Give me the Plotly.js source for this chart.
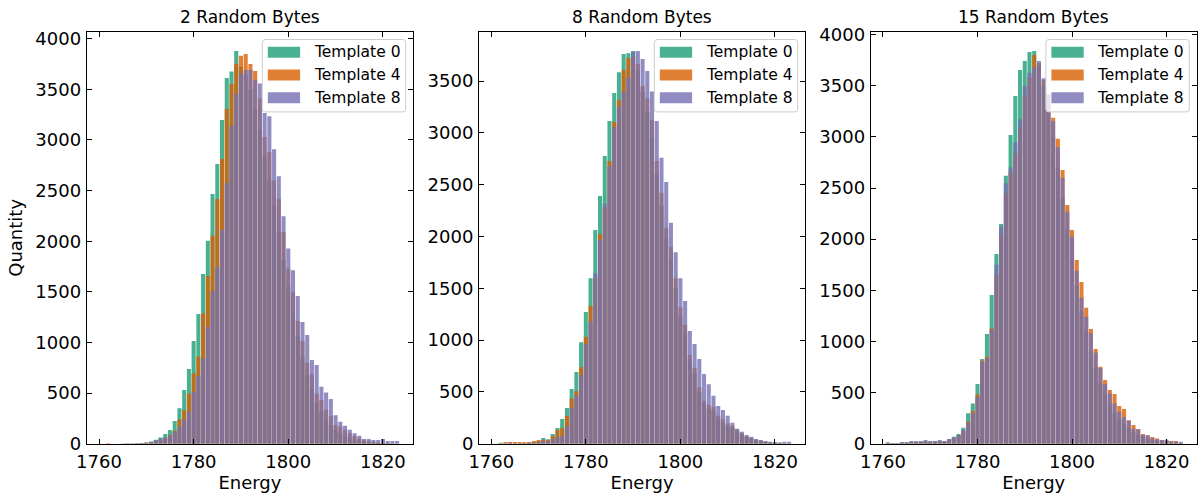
<!DOCTYPE html>
<html>
<head>
<meta charset="utf-8">
<script src="https://cdn.plot.ly/plotly-3.0.1.min.js"></script>
<style>
  html, body { margin: 0; padding: 0; background: #fff; }
  #chart { width: 1198px; height: 495px; }
</style>
</head>
<body>
<div id="chart"></div>
<script>
// ---------- DATA ----------
const energies = [1760,1761,1762,1763,1764,1765,1766,1767,1768,1769,1770,1771,1772,1773,1774,1775,1776,1777,1778,1779,1780,1781,1782,1783,1784,1785,1786,1787,1788,1789,1790,1791,1792,1793,1794,1795,1796,1797,1798,1799,1800,1801,1802,1803,1804,1805,1806,1807,1808,1809,1810,1811,1812,1813,1814,1815,1816,1817,1818,1819,1820,1821,1822,1823];

const panelTitles = ["2 Random Bytes", "8 Random Bytes", "15 Random Bytes"];
const seriesNames = ["Template 0", "Template 4", "Template 8"];
const xTickVals = [1760, 1780, 1800, 1820];

// 2 Random Bytes
const bytes2_template0 = [0,0,0,0,0,2,3,3,5,8,12,22,40,60,95,135,224,349,530,737,1014,1280,1676,2005,2466,2762,3197,3611,3677,3878,3720,3640,3500,3300,3100,2850,2600,2350,2100,1820,1550,1300,1060,860,670,540,410,320,240,180,135,100,75,55,40,30,22,15,10,8,6,4,3,2];
const bytes2_template4 = [0,0,8,0,0,2,2,3,4,6,10,15,25,40,60,86,127,240,330,497,695,859,1287,1656,2054,2416,2811,3305,3552,3753,3832,3848,3750,3680,3410,3030,2880,2600,2420,2092,1731,1500,1211,1014,800,685,497,431,332,273,184,170,135,102,75,55,40,30,20,15,10,6,4,2];
const bytes2_template8 = [0,0,0,0,0,0,5,3,5,8,10,16,36,52,62,79,118,167,240,316,513,672,846,1152,1508,1745,2113,2574,3137,3453,3657,3690,3690,3592,3558,3266,3233,2908,2641,2246,1927,1714,1458,1201,1073,826,777,563,505,441,280,217,178,138,102,79,46,46,36,36,46,26,26,26];

// 8 Random Bytes
const bytes8_template0 = [0,2,8,5,5,5,5,5,8,15,25,55,42,93,151,238,344,528,692,978,1271,1596,2062,2390,2776,3114,3384,3584,3761,3767,3790,3600,3400,3200,2950,2600,2300,1980,1780,1500,1230,1060,800,680,500,390,340,320,245,210,175,155,120,90,65,48,35,25,18,12,8,5,3,2];
const bytes8_template4 = [0,0,5,16,16,16,16,16,16,26,36,39,35,74,132,151,267,437,505,737,1029,1329,1596,2023,2281,2728,3104,3317,3606,3722,3735,3664,3452,3333,3124,2728,2422,2085,1900,1596,1316,1145,856,733,544,415,373,357,270,235,196,174,138,100,75,55,40,30,20,15,10,6,4,2];
const bytes8_template8 = [0,0,0,0,8,3,3,5,12,10,15,29,26,42,68,74,164,347,466,663,962,1177,1644,1969,2319,2680,3053,3252,3397,3532,3783,3790,3712,3597,3400,3114,2760,2525,2133,1847,1596,1377,1087,962,817,672,573,463,364,325,270,203,145,116,84,68,45,35,26,19,13,13,19,19];

// 15 Random Bytes
const bytes15_template0 = [0,5,5,5,10,10,15,15,20,20,20,25,20,25,46,69,95,157,297,394,584,828,1073,1454,1855,2148,2621,3019,3400,3654,3742,3831,3840,3700,3500,3250,3000,2700,2400,2100,1800,1550,1300,1100,900,750,600,480,380,300,240,190,150,110,85,65,50,38,28,20,15,10,8,5];
const bytes15_template4 = [0,5,5,5,10,10,15,15,20,25,20,20,25,25,40,55,82,130,215,319,480,810,850,1130,1650,2050,2448,2650,2840,3100,3400,3580,3801,3720,3560,3420,3188,2983,2676,2334,2090,1796,1581,1330,1121,926,753,623,525,486,368,339,230,183,143,95,80,65,52,35,30,26,26,10];
const bytes15_template8 = [0,13,7,7,16,16,26,26,26,36,26,26,36,26,46,59,85,134,199,300,460,800,835,1118,1750,2122,2546,2700,2947,3172,3498,3628,3680,3742,3573,3410,3156,2898,2601,2269,2024,1692,1428,1242,1079,893,737,584,492,394,313,258,225,147,140,85,82,52,42,36,39,22,18,20];

const panelSeries = [
  [bytes2_template0, bytes2_template4, bytes2_template8],
  [bytes8_template0, bytes8_template4, bytes8_template8],
  [bytes15_template0, bytes15_template4, bytes15_template8]
];
const yMax = [4066, 3973, 4026];
const yTickStops = [4000, 3500, 4000];

// ---------- STYLE / LAYOUT ----------
const W = 1198, H = 495;
const FONT = "DejaVu Sans";
const colors = ["#1b9e77", "#d95f02", "#7570b3"];
const ALPHA = 0.8;
const PX = [{l: 86.7, r: 413.2}, {l: 479, r: 805.2}, {l: 870.7, r: 1196.8}];
const TOP = 32, BOT = 443.7;

function rgba(hex, a) {
  const n = parseInt(hex.slice(1), 16);
  return `rgba(${(n>>16)&255},${(n>>8)&255},${n&255},${a})`;
}

const traces = [];
const layout = {
  width: W, height: H,
  margin: {l: 0, r: 0, t: 0, b: 0},
  paper_bgcolor: "#fff", plot_bgcolor: "#fff",
  barmode: "overlay",
  showlegend: false,
  hovermode: false,
  font: {family: FONT, color: "#000"},
  shapes: [], annotations: []
};

PX.forEach((p, i) => {
  const sfx = i === 0 ? "" : String(i + 1);
  const xa = "x" + sfx, ya = "y" + sfx;
  panelSeries[i].forEach((vals, s) => {
    traces.push({
      type: "bar", x: energies, y: vals, name: seriesNames[s],
      xaxis: xa, yaxis: ya, width: 0.86,
      marker: {color: rgba(colors[s], ALPHA), line: {width: 0}},
      showlegend: false
    });
  });
  const yticks = [];
  for (let v = 0; v <= yTickStops[i]; v += 500) yticks.push(v);
  const axCommon = {
    showline: true, linecolor: "#000", linewidth: 1, mirror: "allticks",
    ticks: "inside", ticklen: 5, tickwidth: 1, tickcolor: "#000",
    showgrid: false, zeroline: false,
    tickfont: {family: FONT, size: 18, color: "#000"}
  };
  layout["xaxis" + sfx] = Object.assign({}, axCommon, {
    domain: [p.l / W, p.r / W], anchor: ya,
    range: [1757.4, 1826.4], tickmode: "array", tickvals: xTickVals,
    ticklabelstandoff: 2,
    title: {text: "Energy", font: {family: FONT, size: 18, color: "#000"}, standoff: 5}
  });
  layout["yaxis" + sfx] = Object.assign({}, axCommon, {
    domain: [1 - BOT / H, 1 - TOP / H], anchor: xa,
    range: [0, yMax[i]], tickmode: "array", tickvals: yticks,
    ticklabelstandoff: 1,
    title: i === 0 ? {text: "Quantity", font: {family: FONT, size: 18, color: "#000"}, standoff: 7} : {text: ""}
  });

  // subplot title
  layout.annotations.push({
    text: panelTitles[i], xref: xa + " domain", x: 0.5, xanchor: "center",
    yref: "paper", y: 1 - 17 / H, yanchor: "middle", showarrow: false,
    font: {family: FONT, size: 17, color: "#000"}
  });

  // legend (matplotlib style box)
  const pw = p.r - p.l, ph = BOT - TOP;
  const fx = px => (px - p.l) / pw;
  const fy = py => (BOT - py) / ph;
  const bR = p.r - 7.5, bT = TOP + 7.5, bW = 143.4, bH = 72.4;
  const bL = bR - bW, bB = bT + bH, rad = 3;
  const path = `M ${fx(bL + rad)},${fy(bT)} L ${fx(bR - rad)},${fy(bT)} Q ${fx(bR)},${fy(bT)} ${fx(bR)},${fy(bT + rad)} ` +
    `L ${fx(bR)},${fy(bB - rad)} Q ${fx(bR)},${fy(bB)} ${fx(bR - rad)},${fy(bB)} ` +
    `L ${fx(bL + rad)},${fy(bB)} Q ${fx(bL)},${fy(bB)} ${fx(bL)},${fy(bB - rad)} ` +
    `L ${fx(bL)},${fy(bT + rad)} Q ${fx(bL)},${fy(bT)} ${fx(bL + rad)},${fy(bT)} Z`;
  layout.shapes.push({
    type: "path", path: path, xref: xa + " domain", yref: ya + " domain",
    fillcolor: "rgba(255,255,255,0.8)", line: {color: "#cccccc", width: 1}, layer: "above"
  });
  seriesNames.forEach((nm, s) => {
    const cy = bT + 12.7 + s * 22.8;
    layout.shapes.push({
      type: "rect", xref: xa + " domain", yref: ya + " domain",
      x0: fx(bL + 5.5), x1: fx(bL + 37.8), y0: fy(cy - 5.5), y1: fy(cy + 5.5),
      fillcolor: rgba(colors[s], ALPHA), line: {width: 0}, layer: "above"
    });
    layout.annotations.push({
      text: nm, xref: xa + " domain", yref: ya + " domain",
      x: fx(bL + 49.4), y: fy(cy), xanchor: "left", yanchor: "middle",
      showarrow: false, font: {family: FONT, size: 15.5, color: "#000"}
    });
  });
});

Plotly.newPlot("chart", traces, layout, {staticPlot: true, displayModeBar: false});
</script>
</body>
</html>
